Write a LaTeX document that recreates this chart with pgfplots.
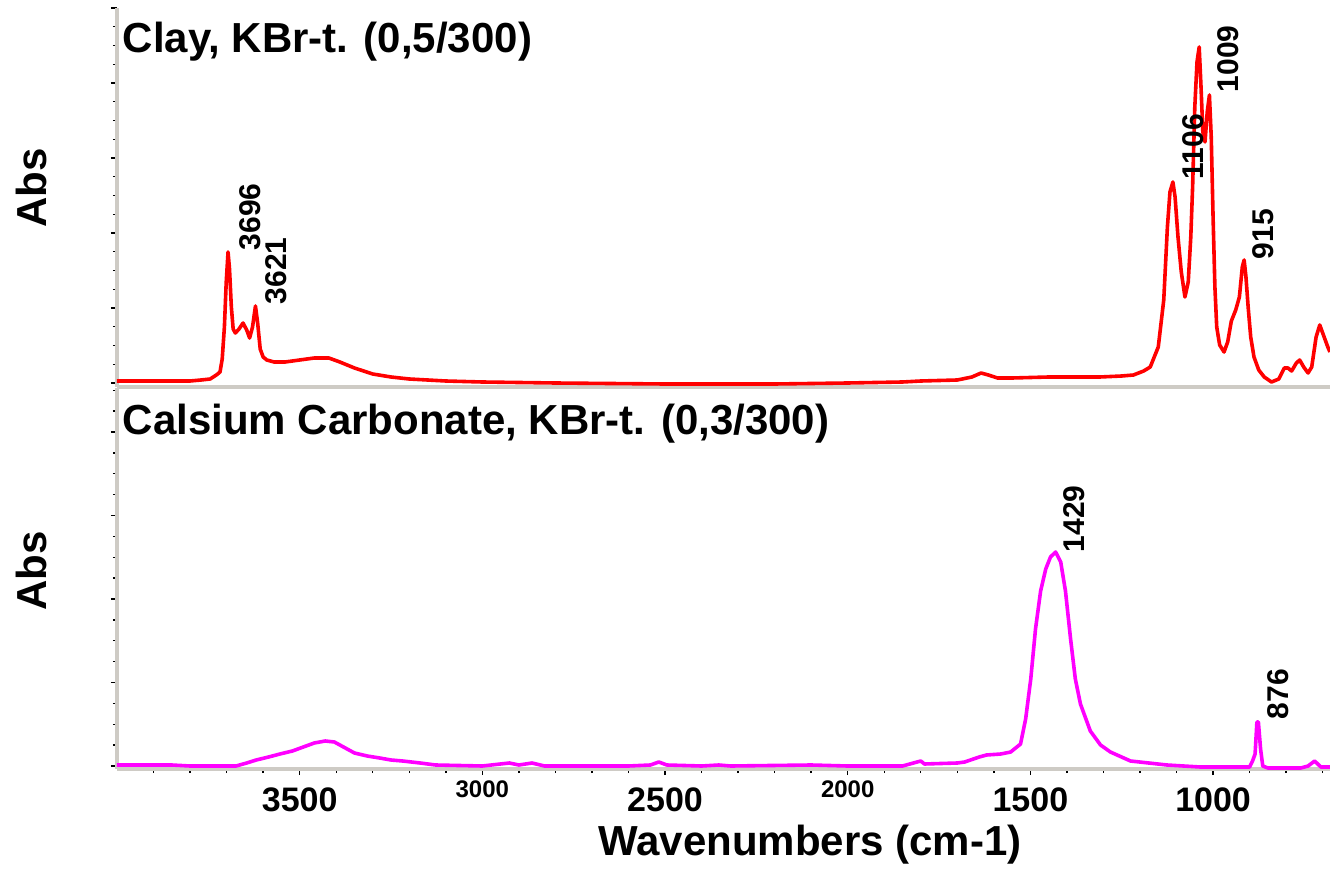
\documentclass[border=0pt]{standalone}
\usepackage{pgfplots}
\pgfplotsset{compat=1.18}
\usepackage{fontspec}
\setmainfont{Liberation Sans}

\definecolor{axgray}{RGB}{206,203,197}
\definecolor{specred}{RGB}{255,0,0}
\definecolor{specmag}{RGB}{255,0,255}

% tick labels: big ones sit a little lower than the small ones
\newcommand\bigtl[1]{\raisebox{0pt}[\dimexpr\height+1.75pt\relax]{\fontsize{8.5pt}{9pt}\selectfont\bfseries #1}}
\newcommand\smalltl[1]{{\fontsize{6pt}{7pt}\selectfont\bfseries #1}}

\tikzset{peak/.style={rotate=90, anchor=north west, inner sep=0pt, font=\fontsize{7.5pt}{8pt}\selectfont\bfseries}}

\pgfplotsset{
  spec/.style={
    scale only axis, width=303.25pt,
    x dir=reverse, xmin=680, xmax=4000, ymin=0,
    axis x line=bottom, axis y line=left,
    axis line style={-, axgray, line width=0.9pt},
    tick align=outside,
    major tick length=1.5pt, minor tick length=1pt,
    every tick/.style={black, line width=0.35pt},
    yticklabels={},
    clip=true,
  },
}

\begin{document}
\begin{tikzpicture}
\path[use as bounding box] (0,0) rectangle (332.5pt,217.25pt);

% ---- top: clay
\begin{axis}[spec, at={(29.25pt,120.5pt)}, anchor=south west,
  height=94.75pt, ymax=379, xtick=\empty,
  ytick={4,79,154,229,304,379}, minor y tick num=3]
\addplot[specred, line width=0.9pt, line join=round] coordinates {
(4000,6)(3900,6)(3800,6)(3770,7)(3745,8)(3728,12)(3718,15)(3712,28)(3706,60)
(3701,105)(3696,135)(3692,118)(3687,80)(3682,58)(3676,54)(3666,58)(3655,64)
(3645,57)(3637,49)(3629,60)(3621,81)(3615,64)(3608,38)(3600,30)(3590,27)
(3570,25)(3540,25)(3500,27)(3460,29)(3420,29)(3390,25)(3350,19)(3300,13)
(3250,10)(3200,8)(3100,6)(3000,5)(2800,4)(2500,3)(2200,3)(2000,4)(1850,5)
(1800,6)(1700,7)(1660,10)(1635,14)(1615,12)(1590,9)(1550,9)(1450,10)(1310,10)
(1250,11)(1218,12)(1190,16)(1172,20)(1150,40)(1135,87)(1125,160)(1118,195)
(1110,205)(1104,190)(1096,150)(1087,115)(1077,90)(1068,105)(1061,150)(1056,200)
(1050,280)(1044,325)(1038,340)(1033,300)(1028,255)(1022,245)(1016,275)(1010,292)
(1005,250)(1000,170)(995,100)(990,60)(982,42)(970,35)(960,45)(950,66)(938,77)
(928,90)(920,120)(915,127)(910,110)(904,80)(897,50)(888,30)(875,17)(860,10)
(840,5)(820,8)(805,19)(795,19)(785,16)(772,24)(763,27)(752,20)(740,14)(730,20)
(718,50)(708,62)(698,52)(686,40)(680,35)
};
\node[peak] at (axis cs:3668,136) {3696};
\node[peak] at (axis cs:3595,82) {3621};
\node[peak] at (axis cs:1085,207) {1106};
\node[peak] at (axis cs:989,294) {1009};
\node[peak] at (axis cs:894,127) {915};
\end{axis}

% ---- bottom: calcium carbonate
\begin{axis}[spec, at={(29.25pt,25pt)}, anchor=south west,
  height=95.25pt, ymax=381,
  xtick={1000,1500,2000,2500,3000,3500},
  xticklabels={\bigtl{1000},\bigtl{1500},\smalltl{2000},\bigtl{2500},\smalltl{3000},\bigtl{3500}},
  xticklabel style={anchor=north, inner sep=0pt, yshift=-1.2pt},
  minor xtick={700,800,...,3900},
  ytick={3,86.5,170,253.5,337},
  minor ytick={23.9,44.8,65.6,107.4,128.3,149.1,190.9,211.8,232.6,274.4,295.3,316.1,357.9,378.8}]
\addplot[specmag, line width=0.9pt, line join=round] coordinates {
(4000,4)(3850,4)(3800,3)(3700,3)(3674,3)(3645,6)(3619,9)(3585,12)(3554,15)
(3520,18)(3490,22)(3460,26)(3430,28)(3405,27)(3380,22)(3350,16)(3315,13)
(3281,11)(3250,9)(3218,8)(3170,6)(3128,4)(3000,3)(2926,6)
(2900,4)(2864,6)(2830,3)(2600,3)(2540,4)(2517,7)(2495,4)(2400,3)(2353,4)
(2320,3)(2100,4)(2000,3)(1850,3)(1800,8)(1790,5)(1700,6)(1680,7)(1640,12)
(1620,14)(1581,15)(1554,17)(1527,25)(1513,50)(1499,90)(1486,140)(1472,178)
(1458,200)(1445,212)(1431,217)(1417,207)(1404,178)(1390,130)(1377,90)(1363,65)
(1336,38)(1308,24)(1281,17)(1226,8)(1126,4)(1035,2)(930,2)(900,2)(892,8)
(885,15)(880,47)(876,47)(870,20)(864,3)(850,1)(760,1)(740,3)(722,8)(705,2)(680,2)
};
\node[peak] at (axis cs:1412,216) {1429};
\node[peak] at (axis cs:853,49) {876};
\end{axis}

% titles and axis labels
\node[anchor=base west, inner sep=0pt, font=\fontsize{10.5pt}{12pt}\selectfont\bfseries]
  at (30.5pt,204pt) {Clay, KBr-t. (0,5/300)};
\node[anchor=base west, inner sep=0pt, font=\fontsize{10.5pt}{12pt}\selectfont\bfseries]
  at (30.5pt,108.5pt) {Calsium Carbonate, KBr-t. (0,3/300)};
\node[rotate=90, inner sep=0pt, font=\fontsize{10.5pt}{12pt}\selectfont\bfseries]
  at (7.75pt,170.25pt) {Abs};
\node[rotate=90, inner sep=0pt, font=\fontsize{10.5pt}{12pt}\selectfont\bfseries]
  at (7.75pt,74.5pt) {Abs};
\node[anchor=base, inner sep=0pt, font=\fontsize{10.5pt}{12pt}\selectfont\bfseries]
  at (202.5pt,3.5pt) {Wavenumbers (cm-1)};
\end{tikzpicture}
\end{document}
